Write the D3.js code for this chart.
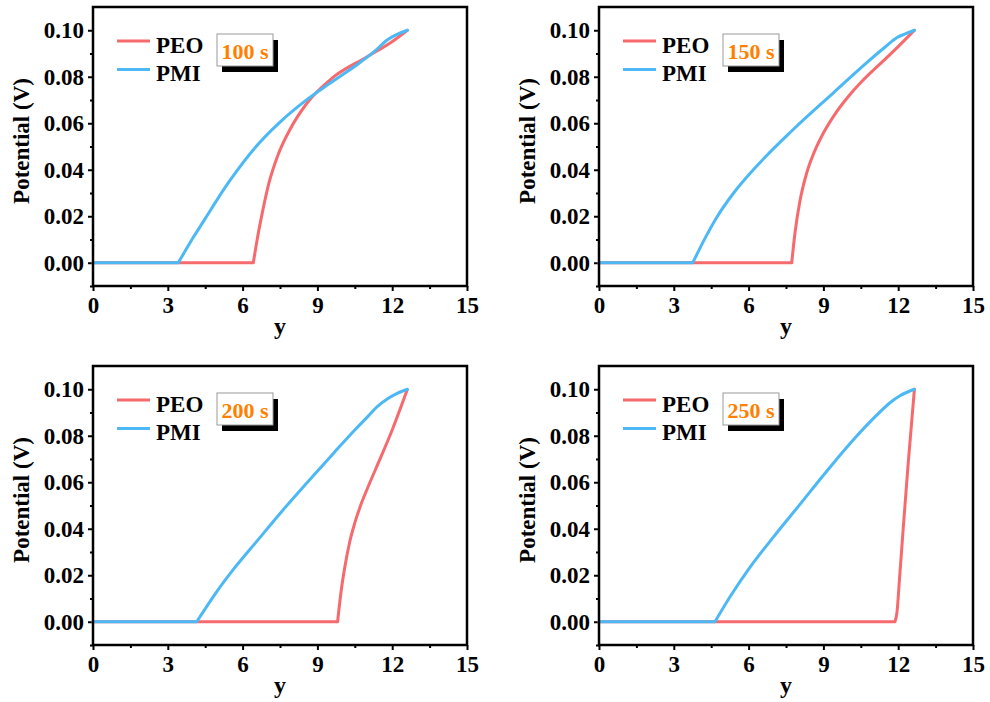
<!DOCTYPE html>
<html>
<head>
<meta charset="utf-8">
<script src="https://cdn.jsdelivr.net/npm/d3@7"></script>
<style>
    body { margin: 0; background: #fff; }
</style>
</head>
<body>
<div id="chart"></div>
<script>
// curves, [y, potential]
const peo100 = [[0, 0], [6.43, 0], [6.6, 0.011], [6.8, 0.022], [7.05, 0.034], [7.4, 0.0458], [7.9, 0.0573], [8.57, 0.0685], [9.6, 0.0795], [10.98, 0.0885], [12.05, 0.0955], [12.61, 0.1]];
const pmi100 = [[0, 0], [3.42, 0], [4.0, 0.0105], [4.5, 0.019], [5.0, 0.0275], [5.5, 0.0355], [6.5, 0.0495], [7.5, 0.0605], [8.5, 0.0695], [9.5, 0.0772], [10.5, 0.0845], [11.3, 0.091], [11.8, 0.0958], [12.2, 0.0982], [12.61, 0.1]];

const peo150 = [[0, 0], [7.73, 0], [7.86, 0.0128], [8.05, 0.026], [8.33, 0.0386], [8.65, 0.048], [9.0, 0.0558], [9.5, 0.0645], [10.0, 0.0715], [10.5, 0.0775], [11.0, 0.0828], [11.5, 0.0878], [12.07, 0.0937], [12.65, 0.1]];
const pmi150 = [[0, 0], [3.76, 0], [4.25, 0.0105], [4.72, 0.0195], [5.4, 0.030], [6.19, 0.040], [7.79, 0.0573], [9.4, 0.0731], [10.74, 0.0861], [11.5, 0.093], [11.94, 0.0968], [12.3, 0.0985], [12.65, 0.1]];

const peo200 = [[0, 0], [9.81, 0], [9.95, 0.013], [10.1, 0.0235], [10.3, 0.0345], [10.5, 0.0425], [10.75, 0.0505], [11.0, 0.0572], [11.5, 0.0697], [12.0, 0.0825], [12.6, 0.0997]];
const pmi200 = [[0, 0], [4.16, 0], [5.0, 0.0135], [5.63, 0.0225], [6.6, 0.035], [7.63, 0.0482], [8.6, 0.060], [9.64, 0.0724], [10.5, 0.0825], [11.0, 0.088], [11.4, 0.0925], [11.8, 0.0958], [12.2, 0.0982], [12.61, 0.1]];

const peo250 = [[0, 0], [11.87, 0], [11.95, 0.004], [12.05, 0.018], [12.2, 0.040], [12.4, 0.068], [12.65, 0.1]];
const pmi250 = [[0, 0], [4.65, 0], [5.3, 0.0115], [6.06, 0.0235], [7.0, 0.0365], [8.06, 0.0505], [9.0, 0.063], [10.07, 0.0767], [11.2, 0.0895], [11.67, 0.0942], [12.07, 0.0972], [12.65, 0.1]];

const timeLabels = ['100 s', '150 s', '200 s', '250 s'];
const seriesNames = ['PEO', 'PMI'];
const xTicks = [0, 3, 6, 9, 12, 15];
const yTicks = [0, 0.02, 0.04, 0.06, 0.08, 0.10];

const panels = [
    { PEO: peo100, PMI: pmi100, label: timeLabels[0], left: 93, top: 7 },
    { PEO: peo150, PMI: pmi150, label: timeLabels[1], left: 599, top: 7 },
    { PEO: peo200, PMI: pmi200, label: timeLabels[2], left: 93, top: 366 },
    { PEO: peo250, PMI: pmi250, label: timeLabels[3], left: 599, top: 366 }
];

const colors = { PEO: '#f66a6d', PMI: '#4cb8f5' };
const FONT = '"Liberation Serif", "Times New Roman", serif';
const width = 374, height = 279;

const svg = d3.select('#chart')
    .append('svg')
    .attr('width', 990)
    .attr('height', 702);

const xScale = d3.scaleLinear().domain([0, 15]).range([0, width]);
const yScale = d3.scaleLinear().domain([-0.01, 0.11]).range([height, 0]);

const smooth = d3.line()
    .x(d => xScale(d[0]))
    .y(d => yScale(d[1]))
    .curve(d3.curveMonotoneX);

// flat part and rising part drawn separately so the knee stays sharp
const curvePath = data => {
    const knee = d3.max(data.map((d, i) => d[1] === 0 ? i : -1));
    return smooth(data.slice(0, knee + 1)) + smooth(data.slice(knee));
};

const styleAxis = g => {
    g.select('.domain').remove();
    g.selectAll('line').attr('stroke', '#000').attr('stroke-width', 2);
    g.selectAll('text')
        .attr('fill', '#000')
        .style('font-family', FONT)
        .style('font-weight', 'bold')
        .style('font-size', '23px');
};

const boldText = sel => sel
    .style('font-family', FONT)
    .style('font-weight', 'bold');

panels.forEach(p => {
    const g = svg.append('g')
        .attr('transform', `translate(${p.left}, ${p.top})`);

    // minor ticks
    g.append('g')
        .attr('transform', `translate(0, ${height})`)
        .call(d3.axisBottom(xScale).tickValues(d3.range(1.5, 15, 3)).tickSize(3).tickFormat(''))
        .call(styleAxis);
    g.append('g')
        .call(d3.axisLeft(yScale).tickValues(d3.range(-0.01, 0.11, 0.02)).tickSize(3).tickFormat(''))
        .call(styleAxis);

    // major ticks
    g.append('g')
        .attr('transform', `translate(0, ${height})`)
        .call(d3.axisBottom(xScale).tickValues(xTicks).tickSize(5).tickPadding(6).tickFormat(d3.format('d')))
        .call(styleAxis);
    g.append('g')
        .call(d3.axisLeft(yScale).tickValues(yTicks).tickSize(5).tickPadding(4).tickFormat(d3.format('.2f')))
        .call(styleAxis);

    seriesNames.forEach(name => {
        g.append('path')
            .attr('d', curvePath(p[name]))
            .attr('fill', 'none')
            .attr('stroke', colors[name])
            .attr('stroke-width', 3)
            .attr('stroke-linecap', 'round')
            .attr('stroke-linejoin', 'round');
    });

    // frame
    g.append('rect')
        .attr('width', width)
        .attr('height', height)
        .attr('fill', 'none')
        .attr('stroke', '#000')
        .attr('stroke-width', 2.5);

    // axis titles
    g.append('text')
        .attr('x', width / 2)
        .attr('y', height + 48)
        .attr('text-anchor', 'middle')
        .style('font-size', '24px')
        .call(boldText)
        .text('y');

    g.append('text')
        .attr('transform', `translate(-64, 134) rotate(-90)`)
        .attr('text-anchor', 'middle')
        .style('font-size', '23px')
        .call(boldText)
        .text('Potential (V)');

    // legend
    seriesNames.forEach((name, i) => {
        const ly = 34 + i * 28.5;
        g.append('line')
            .attr('x1', 24).attr('x2', 57)
            .attr('y1', ly).attr('y2', ly)
            .attr('stroke', colors[name])
            .attr('stroke-width', 3);
        g.append('text')
            .attr('x', 63)
            .attr('y', ly + 4.5)
            .attr('dy', '0.32em')
            .style('font-size', '23px')
            .call(boldText)
            .text(name);
    });

    // time label box with shadow
    g.append('rect')
        .attr('x', 129).attr('y', 33)
        .attr('width', 56).attr('height', 32)
        .attr('fill', '#000');
    g.append('rect')
        .attr('x', 124).attr('y', 27)
        .attr('width', 56).attr('height', 32)
        .attr('fill', '#fff')
        .attr('stroke', '#999')
        .attr('stroke-width', 1);
    g.append('text')
        .attr('x', 152)
        .attr('y', 51.5)
        .attr('text-anchor', 'middle')
        .attr('fill', '#ff8000')
        .style('font-size', '22px')
        .call(boldText)
        .text(p.label);
});
</script>
</body>
</html>
